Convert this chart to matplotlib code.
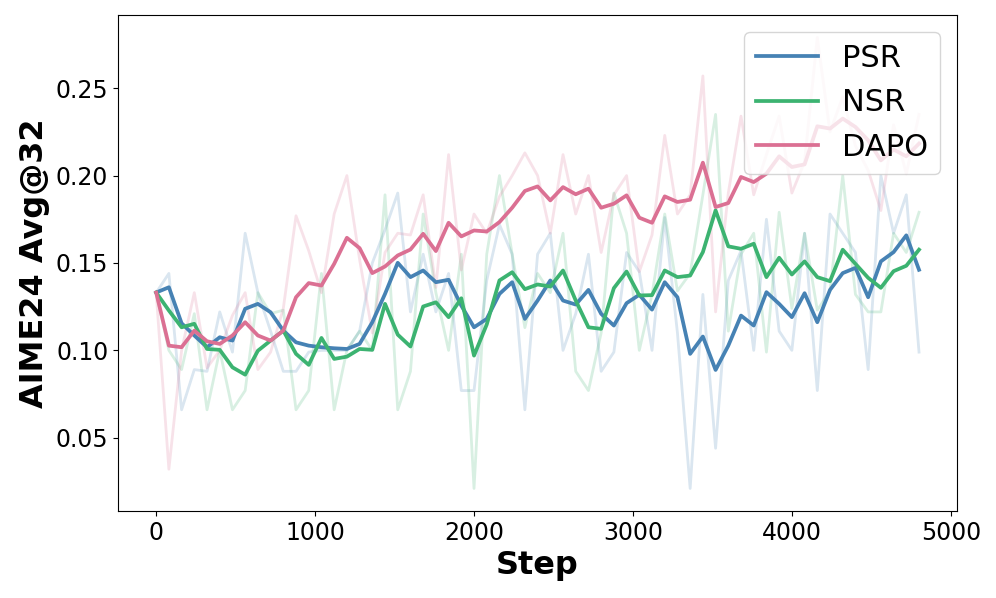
import numpy as np
import matplotlib.pyplot as plt

# Passos de treino (a cada 80 steps)
steps = list(range(0, 4801, 80))

# Valores brutos (linhas claras)
psr_raw = [0.133, 0.144, 0.066, 0.089, 0.088, 0.122, 0.099, 0.167, 0.133, 0.111,
           0.088, 0.088, 0.099, 0.100, 0.100, 0.100, 0.111, 0.150, 0.169, 0.190,
           0.122, 0.155, 0.122, 0.144, 0.077, 0.077, 0.140, 0.172, 0.155, 0.066,
           0.155, 0.167, 0.100, 0.121, 0.155, 0.088, 0.099, 0.156, 0.145, 0.100,
           0.176, 0.110, 0.021, 0.132, 0.044, 0.140, 0.157, 0.100, 0.175, 0.111,
           0.100, 0.167, 0.077, 0.178, 0.167, 0.156, 0.089, 0.200, 0.167, 0.189, 0.099]
nsr_raw = [0.133, 0.100, 0.089, 0.121, 0.066, 0.100, 0.066, 0.077, 0.133, 0.121,
           0.123, 0.066, 0.077, 0.144, 0.066, 0.100, 0.111, 0.100, 0.189, 0.066,
           0.088, 0.178, 0.133, 0.100, 0.155, 0.021, 0.155, 0.200, 0.155, 0.113,
           0.144, 0.133, 0.167, 0.088, 0.077, 0.110, 0.190, 0.167, 0.100, 0.132,
           0.178, 0.134, 0.144, 0.189, 0.235, 0.111, 0.155, 0.167, 0.099, 0.179,
           0.124, 0.167, 0.123, 0.134, 0.200, 0.132, 0.122, 0.122, 0.167, 0.156, 0.179]
dapo_raw = [0.133, 0.032, 0.100, 0.133, 0.090, 0.100, 0.120, 0.133, 0.089, 0.099,
            0.124, 0.177, 0.157, 0.133, 0.178, 0.200, 0.152, 0.110, 0.156, 0.167,
            0.166, 0.189, 0.136, 0.212, 0.146, 0.178, 0.167, 0.188, 0.200, 0.213,
            0.200, 0.167, 0.212, 0.178, 0.200, 0.156, 0.189, 0.200, 0.145, 0.166,
            0.223, 0.178, 0.189, 0.257, 0.122, 0.190, 0.234, 0.189, 0.212, 0.234,
            0.190, 0.208, 0.279, 0.225, 0.245, 0.217, 0.203, 0.180, 0.229, 0.201, 0.235]

# Valores suavizados (linhas fortes)
psr_smooth = [0.1331, 0.1361, 0.1155, 0.1085, 0.1018, 0.1075, 0.1056, 0.1238, 0.1266, 0.1218,
              0.1113, 0.1046, 0.1027, 0.1018, 0.1012, 0.1008, 0.1037, 0.1161, 0.1323, 0.1501,
              0.1419, 0.1457, 0.1390, 0.1404, 0.1256, 0.1132, 0.1180, 0.1323, 0.1390, 0.1180,
              0.1285, 0.1400, 0.1285, 0.1262, 0.1346, 0.1209, 0.1142, 0.1270, 0.1318, 0.1233,
              0.1390, 0.1304, 0.0980, 0.1079, 0.0888, 0.1027, 0.1199, 0.1142, 0.1333, 0.1266,
              0.1190, 0.1327, 0.1161, 0.1346, 0.1442, 0.1472, 0.1304, 0.1509, 0.1562, 0.1658, 0.1461]
nsr_smooth = [0.1331, 0.1228, 0.1132, 0.1152, 0.1008, 0.1003, 0.0903, 0.0861, 0.0998, 0.1056,
              0.1113, 0.0980, 0.0917, 0.1071, 0.0951, 0.0964, 0.1008, 0.1003, 0.1266, 0.1090,
              0.1022, 0.1251, 0.1275, 0.1190, 0.1298, 0.0970, 0.1148, 0.1400, 0.1447, 0.1350,
              0.1377, 0.1365, 0.1457, 0.1285, 0.1132, 0.1123, 0.1356, 0.1451, 0.1314, 0.1316,
              0.1457, 0.1419, 0.1428, 0.1562, 0.1801, 0.1595, 0.1581, 0.1610, 0.1419, 0.1530,
              0.1434, 0.1509, 0.1419, 0.1396, 0.1576, 0.1495, 0.1415, 0.1358, 0.1453, 0.1484, 0.1576]
dapo_smooth = [0.1331, 0.1027, 0.1018, 0.1113, 0.1052, 0.1037, 0.1085, 0.1161, 0.1085, 0.1056,
               0.1113, 0.1304, 0.1385, 0.1371, 0.1495, 0.1644, 0.1585, 0.1442, 0.1480, 0.1543,
               0.1577, 0.1667, 0.1568, 0.1730, 0.1652, 0.1686, 0.1680, 0.1734, 0.1816, 0.1912,
               0.1938, 0.1858, 0.1934, 0.1893, 0.1925, 0.1816, 0.1839, 0.1887, 0.1759, 0.1730,
               0.1881, 0.1849, 0.1862, 0.2074, 0.1820, 0.1843, 0.1992, 0.1963, 0.2011, 0.2110,
               0.2049, 0.2064, 0.2282, 0.2269, 0.2326, 0.2278, 0.2202, 0.2087, 0.2149, 0.2110, 0.2183]

labels = ["PSR", "NSR", "DAPO"]
colors = ["#4682b4", "#3cb371", "#db7093"]

fig = plt.figure(figsize=(9.96, 5.98), dpi=100)
ax = fig.add_axes([0.1185, 0.1455, 0.8425, 0.8295])

# Primeiro as linhas claras, depois as suavizadas por cima
for raw, cor in zip([psr_raw, nsr_raw, dapo_raw], colors):
    ax.plot(steps, raw, color=cor, alpha=0.2, linewidth=2)

for smooth, cor, nome in zip([psr_smooth, nsr_smooth, dapo_smooth], colors, labels):
    ax.plot(steps, smooth, color=cor, linewidth=2.7, label=nome)

ax.set_xlabel("Step", fontsize=23, fontweight="bold")
ax.set_ylabel("AIME24 Avg@32", fontsize=23, fontweight="bold")
ax.tick_params(axis="both", labelsize=17)
ax.legend(loc="upper right", fontsize=22, borderaxespad=0.55, labelspacing=0.5)

plt.savefig("out.png", dpi=100)
